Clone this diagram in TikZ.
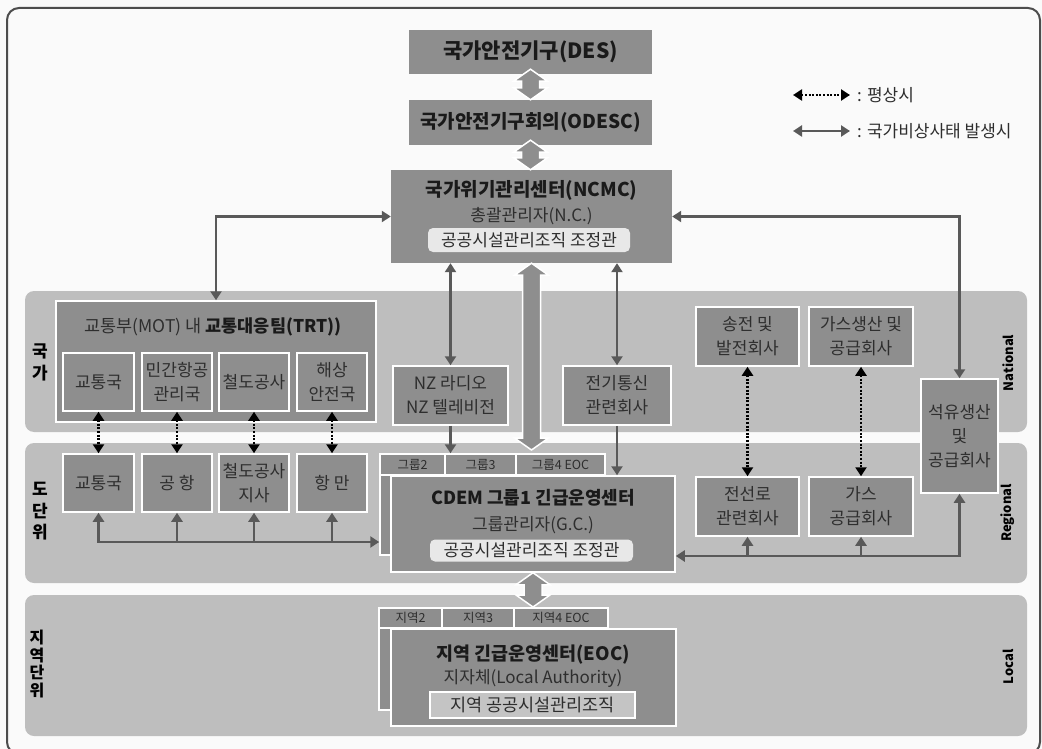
\documentclass[tikz,border=0pt]{standalone}
\usepackage{fontspec}
\setmainfont{Noto Sans CJK KR}
\usetikzlibrary{arrows.meta,calc}
\definecolor{bgc}{HTML}{FAFAFA}
\definecolor{framec}{HTML}{4D4D4D}
\definecolor{bandc}{HTML}{BEBEBE}
\definecolor{boxc}{HTML}{8E8E8E}
\definecolor{lblc}{HTML}{E8E8E8}
\definecolor{lboxc}{HTML}{C4C4C4}
\definecolor{txtc}{HTML}{2E2E2E}
\definecolor{ttlc}{HTML}{1A1A1A}
\definecolor{connc}{HTML}{595959}
\newcommand\blkarrow[2]{\draw[blk] (#1) -- ($(#1)+(17,12)$) -- ($(#1)+(9,12)$) -- ($(#2)+(9,-12)$) -- ($(#2)+(17,-12)$) -- (#2) -- ($(#2)+(-17,-12)$) -- ($(#2)+(-9,-12)$) -- ($(#1)+(-9,12)$) -- ($(#1)+(-17,12)$) -- cycle;}
\begin{document}
\begin{tikzpicture}[x=1pt,y=-1pt,
 >={Triangle[length=9pt,width=11pt]},
 bx/.style={draw=white,line width=1.5pt,fill=boxc,inner sep=0pt,align=center,text=txtc,font=\fontsize{17}{24}\selectfont},
 topbx/.style={fill=boxc,inner sep=0pt,text=ttlc},
 ttl/.style={inner sep=0pt,text=ttlc,font=\bfseries\fontsize{19}{22}\selectfont},
 sub/.style={inner sep=0pt,text=txtc,font=\fontsize{17}{20}\selectfont},
 lbl/.style={fill=lblc,rounded corners=5pt,inner sep=0pt,text=txtc,font=\fontsize{17}{20}\selectfont},
 tab/.style={draw=white,line width=1.5pt,fill=boxc,inner sep=0pt,text=txtc,font=\fontsize{12.5}{14}\selectfont},
 conn/.style={draw=connc,line width=2.6pt},
 dots/.style={draw=black,line width=2.6pt,dash pattern=on 2pt off 1.6pt},
 band/.style={fill=bandc,rounded corners=9pt},
 blk/.style={fill=boxc,draw=white,line width=1.5pt,line join=miter},
 side/.style={inner sep=0pt,text=black,font=\bfseries\fontsize{17}{21.5}\selectfont,align=center},
 eng/.style={inner sep=0pt,rotate=90,text=black,font=\bfseries\fontsize{13}{15}\selectfont}
]
\useasboundingbox (0,0) rectangle (1042,749);
\fill[bgc] (0,0) rectangle (1042,749);
\draw[framec,line width=2pt,rounded corners=12pt] (7,8) rectangle (1040,754);
% bands
\fill[band] (25,291) rectangle (1027,432);
\fill[band] (25,443) rectangle (1027,583);
\fill[band] (25,595) rectangle (1027,736);
% top boxes
\node[topbx,minimum width=243pt,minimum height=44pt,font=\bfseries\fontsize{21}{24}\selectfont] (des) at (530.5,52) {국가안전기구(DES)};
\node[topbx,minimum width=243pt,minimum height=45pt,font=\bfseries\fontsize{19}{22}\selectfont] (odesc) at (530.5,122.5) {국가안전기구회의(ODESC)};
\node[topbx,minimum width=281pt,minimum height=93pt] (ncmc) at (531.5,216.5) {};
\node[ttl] (ncmcT) at (531.5,190) {국가위기관리센터(NCMC)};
\node[sub] (ncmcS) at (531.5,216) {총괄관리자(N.C.)};
\node[lbl,minimum width=202pt,minimum height=24pt] (ncmcL) at (529,240) {공공시설관리조직 조정관};
% legend
\coordinate (lgA1) at (793,95); \coordinate (lgA2) at (850,95);
\draw[dots,<->,line width=2.2pt] (lgA1) -- (lgA2);
\node[anchor=west,inner sep=0pt,text=txtc,font=\fontsize{17}{20}\selectfont] (lgT1) at (857,95) {: 평상시};
\coordinate (lgB1) at (793,131); \coordinate (lgB2) at (850,131);
\draw[conn,<->] (lgB1) -- (lgB2);
\node[anchor=west,inner sep=0pt,text=txtc,font=\fontsize{17}{20}\selectfont] (lgT2) at (857,131) {: 국가비상사태 발생시};
% national: TRT
\node[bx,minimum width=320pt,minimum height=121pt] (trt) at (216,361.5) {};
\node[sub,font=\fontsize{17.5}{20}\selectfont] (trtT) at (213,327) {교통부(MOT) 내 \textbf{\color{ttlc}교통대응팀(TRT))}};
\node[bx,minimum width=71pt,minimum height=58pt] (n1) at (98.5,382) {교통국};
\node[bx,minimum width=70pt,minimum height=58pt] (n2) at (177,382) {민간항공\\관리국};
\node[bx,minimum width=70pt,minimum height=58pt] (n3) at (254,382) {철도공사};
\node[bx,minimum width=70pt,minimum height=58pt] (n4) at (332,382) {해상\\안전국};
% regional small boxes
\node[bx,minimum width=71pt,minimum height=58pt] (r1) at (98.5,483) {교통국};
\node[bx,minimum width=70pt,minimum height=58pt] (r2) at (177,483) {공 항};
\node[bx,minimum width=70pt,minimum height=58pt] (r3) at (254,483) {철도공사\\지사};
\node[bx,minimum width=70pt,minimum height=58pt] (r4) at (332,483) {항 만};
% media, telecom
\node[bx,minimum width=115pt,minimum height=59pt] (nz) at (450.5,395.5) {NZ 라디오\\NZ 텔레비전};
\node[bx,minimum width=108pt,minimum height=59pt] (tel) at (617,395.5) {전기통신\\관련회사};
% utilities
\node[bx,minimum width=103pt,minimum height=59pt] (pw1) at (747.5,336.5) {송전 및\\발전회사};
\node[bx,minimum width=104pt,minimum height=59pt] (gs1) at (861,336.5) {가스생산 및\\공급회사};
\node[bx,minimum width=77pt,minimum height=114pt] (oil) at (959.5,436) {석유생산\\및\\공급회사};
\node[bx,minimum width=103pt,minimum height=59pt] (pw2) at (747.5,506.5) {전선로\\관련회사};
\node[bx,minimum width=104pt,minimum height=59pt] (gs2) at (861,506.5) {가스\\공급회사};
% CDEM group stack
\node[bx,minimum width=225pt,minimum height=101pt] (gback) at (492.5,504.5) {};
\node[tab,minimum width=65pt,minimum height=21pt] (gtab2) at (412.5,464.5) {그룹2};
\node[tab,minimum width=71pt,minimum height=21pt] (gtab3) at (480.5,464.5) {그룹3};
\node[tab,minimum width=89pt,minimum height=21pt] (gtab4) at (560.5,464.5) {그룹4 EOC};
\node[bx,minimum width=284pt,minimum height=96pt] (cdem) at (533,524) {};
\node[ttl,font=\bfseries\fontsize{18}{21}\selectfont] (cdemT) at (533,498) {CDEM 그룹1 긴급운영센터};
\node[sub] (cdemS) at (533,525) {그룹관리자(G.C.)};
\node[lbl,minimum width=203pt,minimum height=22pt] (cdemL) at (531.5,550.5) {공공시설관리조직 조정관};
% local stack
\node[bx,minimum width=229pt,minimum height=102pt] (lback) at (493.5,659) {};
\node[tab,minimum width=63pt,minimum height=20pt] (ltab2) at (410.5,618) {지역2};
\node[tab,minimum width=72pt,minimum height=20pt] (ltab3) at (478,618) {지역3};
\node[tab,minimum width=94pt,minimum height=20pt] (ltab4) at (561,618) {지역4 EOC};
\node[bx,minimum width=285pt,minimum height=97pt] (lfront) at (533.5,677.5) {};
\node[ttl,font=\bfseries\fontsize{18.5}{21}\selectfont] (lT) at (533,655) {지역 긴급운영센터(EOC)};
\node[sub] (lS) at (533,678) {지자체(Local Authority)};
\node[bx,fill=lboxc,minimum width=205pt,minimum height=26pt,font=\fontsize{17.5}{20}\selectfont] (lL) at (532.5,705) {지역 공공시설관리조직};
% side labels
\node[side] (sk) at (40,362.5) {국\\가};
\node[side] (sd) at (40,511.5) {도\\단\\위};
\node[side,font=\bfseries\fontsize{16}{17.5}\selectfont] (sl) at (37,664) {지\\역\\단\\위};
\node[eng] (eN) at (1008,363) {National};
\node[eng] (eR) at (1008,513) {Regional};
\node[eng] (eL) at (1008,667) {Local};
% block arrows
\blkarrow{$(des.south)+(0,-5)$}{odesc.north}
\blkarrow{$(odesc.south)+(0,-5)$}{odesc.south |- ncmc.north}
\coordinate (gtip) at (0,450);
\blkarrow{ncmc.south}{ncmc.south |- gtip}
\coordinate (ltip) at (0,607);
\blkarrow{cdem.south}{cdem.south |- ltip}
% connectors
\draw[conn,<->] (ncmc.west) -| (trt.north);
\draw[conn,<->] (ncmc.east) -| (oil.north);
\draw[conn,<->] (ncmc.south -| nz.north) -- (nz.north);
\draw[conn,->] (nz.south) -- (nz.south |- gback.north);
\draw[conn,<->] (ncmc.south -| tel.north) -- (tel.north);
\draw[conn,->] (tel.south) -- (tel.south |- cdem.north);
\draw[dots,<->] (n1.south) -- (r1.north);
\draw[dots,<->] (n2.south) -- (r2.north);
\draw[dots,<->] (n3.south) -- (r3.north);
\draw[dots,<->] (n4.south) -- (r4.north);
\draw[dots,<->] (pw1.south) -- (pw2.north);
\draw[dots,<->] (gs1.south) -- (gs2.north);
\coordinate (busL) at (0,542);
\draw[conn,<->] (r1.south) |- (gback.west |- busL);
\draw[conn,->] (r2.south |- busL) -- (r2.south);
\draw[conn,->] (r3.south |- busL) -- (r3.south);
\draw[conn,->] (r4.south |- busL) -- (r4.south);
\coordinate (busR) at (0,556);
\draw[conn,<->] (cdem.east |- busR) -| (oil.south);
\draw[conn,->] (pw2.south |- busR) -- (pw2.south);
\draw[conn,->] (gs2.south |- busR) -- (gs2.south);
\end{tikzpicture}
\end{document}
